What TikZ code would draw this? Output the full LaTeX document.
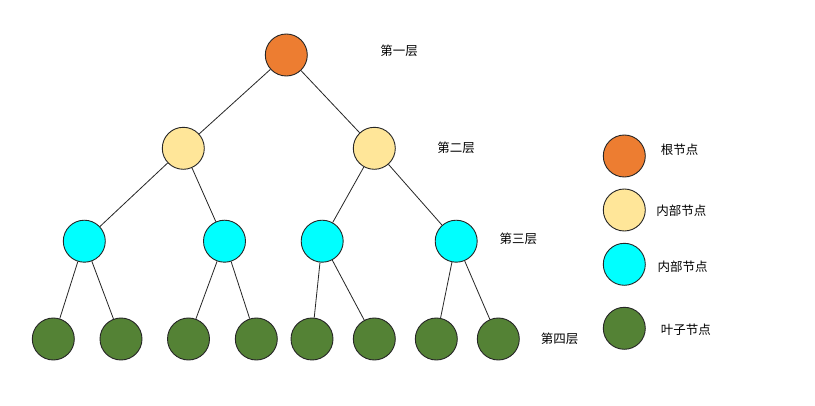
\documentclass[tikz,border=0pt]{standalone}
\usepackage{fontspec}
\setmainfont{Noto Sans CJK SC}
\begin{document}
\begin{tikzpicture}[x=1pt,y=-1pt,
  nd/.style={circle,draw=black!85,line width=0.9pt,minimum size=42pt,inner sep=0pt},
  rootc/.style={nd,fill=rootcol},
  inc/.style={nd,fill=incol},
  cyc/.style={nd,fill=cycol},
  leafc/.style={nd,fill=leafcol},
  lbl/.style={font=\fontsize{12.5}{14}\selectfont,inner sep=0pt},
  edge/.style={draw=black!85,line width=0.8pt}]
\definecolor{rootcol}{HTML}{ED7D31}
\definecolor{incol}{HTML}{FFE699}
\definecolor{cycol}{HTML}{00FFFF}
\definecolor{leafcol}{HTML}{548235}
\useasboundingbox (0,0) rectangle (815,406);
\fill[white] (0,0) rectangle (815,406);
% tree
\node[rootc] (r) at (286.3,55) {};
\node[inc] (a) at (183.3,148.3) {};
\node[inc] (b) at (374.3,148.3) {};
\node[cyc] (a1) at (84.3,241.2) {};
\node[cyc] (a2) at (224.5,241.2) {};
\node[cyc] (b1) at (322.2,241.2) {};
\node[cyc] (b2) at (456.2,241.2) {};
\node[leafc] (l1) at (53.3,339) {};
\node[leafc] (l2) at (121,339) {};
\node[leafc] (l3) at (188.5,339) {};
\node[leafc] (l4) at (256.3,339) {};
\node[leafc] (l5) at (312,339) {};
\node[leafc] (l6) at (374.3,339) {};
\node[leafc] (l7) at (436.3,339) {};
\node[leafc] (l8) at (498.3,339) {};
\draw[edge] (r) -- (a);
\draw[edge] (r) -- (b);
\draw[edge] (a) -- (a1);
\draw[edge] (a) -- (a2);
\draw[edge] (b) -- (b1);
\draw[edge] (b) -- (b2);
\draw[edge] (a1) -- (l1);
\draw[edge] (a1) -- (l2);
\draw[edge] (a2) -- (l3);
\draw[edge] (a2) -- (l4);
\draw[edge] (b1) -- (l5);
\draw[edge] (b1) -- (l6);
\draw[edge] (b2) -- (l7);
\draw[edge] (b2) -- (l8);
% level labels
\node[lbl] (t1) at (399,50.5) {第一层};
\node[lbl] (t2) at (456,147.3) {第二层};
\node[lbl] (t3) at (518.3,238.5) {第三层};
\node[lbl] (t4) at (559.5,339) {第四层};
% legend
\node[rootc] (g1) at (624.3,156) {};
\node[inc] (g2) at (624.3,210) {};
\node[cyc] (g3) at (624.3,264.3) {};
\node[leafc] (g4) at (624.3,328.3) {};
\node[lbl] (k1) at (679.7,150) {根节点};
\node[lbl] (k2) at (681.3,210.5) {内部节点};
\node[lbl] (k3) at (682.5,267) {内部节点};
\node[lbl] (k4) at (685.8,330) {叶子节点};
\end{tikzpicture}
\end{document}
